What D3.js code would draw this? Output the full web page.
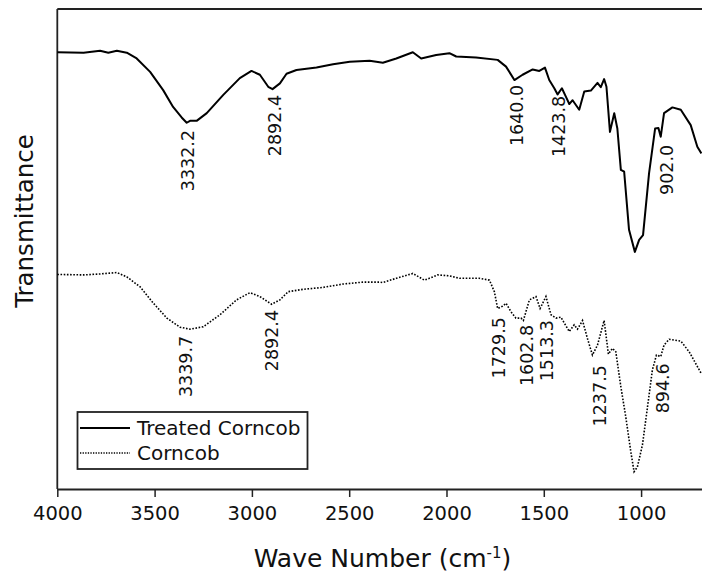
<!DOCTYPE html>
<html><head><meta charset="utf-8">
<script src="https://cdn.jsdelivr.net/npm/d3@7"></script>
<style>body{margin:0;background:#fff}svg{display:block}text{font-family:"DejaVu Sans",Verdana,sans-serif;fill:#111}</style>
</head><body><svg id="c" width="702" height="573"></svg>
<script>
// Treated corncob spectrum: wavenumber (cm-1) and transmittance (arb. %)
const treatedWave = [4000,3865,3780,3738,3694,3643,3592,3523,3456,3405,3361,3335,3318,3284,3232,3147,3062,3002,2959,2916,2894,2856,2822,2771,2668,2583,2497,2395,2344,2327,2258,2173,2130,2053,1985,1950,1848,1737,1694,1651,1609,1557,1523,1494,1472,1446,1429,1407,1386,1369,1352,1318,1292,1258,1224,1207,1190,1178,1160,1138,1122,1104,1087,1062,1032,1010,990,959,928,911,899,882,839,796,745,711,690];
const treatedT = [91.0,90.9,91.3,90.9,91.3,90.9,89.7,86.9,83.1,79.6,77.4,76.3,76.7,76.7,78.3,82.1,85.6,87.1,86.3,83.8,83.3,84.5,86.5,87.3,87.8,88.5,89.0,89.2,88.9,88.8,89.7,91.0,89.7,90.4,90.8,90.1,89.9,89.4,88.0,85.2,86.3,87.4,87.1,87.8,85.2,83.5,82.2,83.5,81.7,80.2,81.0,79.0,82.8,83.0,84.6,83.7,85.4,83.8,74.4,78.3,75.1,66.5,66.1,54.0,49.4,51.9,52.9,65.8,75.1,75.2,73.4,78.3,79.5,79.0,75.8,71.3,69.9];
// Raw corncob spectrum
const corncobWave = [4000,3865,3780,3694,3643,3574,3506,3437,3369,3318,3250,3164,3079,3010,2959,2899,2856,2814,2737,2634,2532,2429,2344,2327,2258,2173,2113,2045,1985,1933,1831,1779,1754,1737,1711,1694,1668,1643,1617,1605,1574,1540,1519,1489,1463,1437,1412,1395,1369,1344,1327,1301,1276,1250,1224,1190,1168,1147,1130,1104,1079,1053,1036,1019,993,967,942,921,899,882,856,796,753,690];
const corncobT = [44.7,44.6,44.8,45.1,44.2,42.1,38.7,35.6,33.7,33.3,33.8,36.3,39.4,40.9,40.1,38.5,39.4,41.1,41.6,42.0,42.7,43.1,43.1,43.0,43.9,44.9,43.5,44.6,44.4,43.9,43.9,43.5,41.1,37.6,38.1,38.7,36.9,35.6,35.6,35.1,39.4,40.1,37.6,40.1,36.3,35.6,35.8,34.6,32.8,34.2,33.3,35.1,31.4,27.9,30.0,35.1,28.1,29.3,28.6,21.3,15.1,7.8,3.6,4.6,9.2,17.1,24.8,27.9,27.6,30.0,31.2,30.8,28.6,24.0];
// Peak annotations
const treatedPeaks = ["3332.2","2892.4","1640.0","1423.8","902.0"];
const treatedPeakT = [74.8,82.1,84.2,81.9,71.7];
const corncobPeaks = ["3339.7","2892.4","1729.5","1602.8","1513.3","1237.5","894.6"];
const corncobPeakT = [31.9,37.3,35.8,34.2,35.2,25.8,26.2];
const xTicks = [4000,3500,3000,2500,2000,1500,1000];
const seriesNames = ["Treated Corncob","Corncob"];

const svg = d3.select("#c");
const L=57.3, T=9, B=489, R=702;
const x = d3.scaleLinear().domain([4000,687]).range([L,R]);
const y = d3.scaleLinear().domain([0,100]).range([B,T]);

// frame
svg.append("line").attr("x1",L).attr("x2",R+2).attr("y1",T).attr("y2",T).attr("stroke","#222").attr("stroke-width",1.8);
svg.append("line").attr("x1",L).attr("x2",L).attr("y1",T).attr("y2",B).attr("stroke","#222").attr("stroke-width",1.8);

const ax = svg.append("g").attr("transform",`translate(0,${B})`)
  .call(d3.axisBottom(x).tickValues(xTicks).tickFormat(d3.format("d")).tickSize(8).tickSizeOuter(0));
ax.select(".domain").attr("stroke","#222").attr("stroke-width",1.8);
ax.selectAll(".tick line").attr("stroke","#222").attr("stroke-width",1.5);
ax.selectAll(".tick text").attr("font-size","19.5px").attr("font-family","DejaVu Sans, Verdana, sans-serif").attr("fill","#111").attr("dy","1.05em");

const line = d3.line().x(d=>x(d[0])).y(d=>y(d[1]));
svg.append("path").datum(treatedWave.map((w,i)=>[w,treatedT[i]])).attr("d",line)
  .attr("fill","none").attr("stroke","#000").attr("stroke-width",2).attr("stroke-linejoin","round");
svg.append("path").datum(corncobWave.map((w,i)=>[w,corncobT[i]])).attr("d",line)
  .attr("fill","none").attr("stroke","#000").attr("stroke-width",1.6).attr("stroke-dasharray","1.6,1.6");

// annotations (rotated)
const tOff=[0,2,0,0,7], cOff=[0,-1,0,2.5,5,5,1.5];
function ann(labels, ts, offs){
  labels.forEach((lab,i)=>{
    const px = x(+lab)+offs[i], py = y(ts[i]);
    svg.append("text").attr("transform",`translate(${px},${py}) rotate(-90)`)
      .attr("text-anchor","end").attr("dy","0.36em").attr("font-size","17.5px").text(lab);
  });
}
ann(treatedPeaks, treatedPeakT, tOff);
ann(corncobPeaks, corncobPeakT, cOff);

// axis titles
svg.append("text").attr("transform","translate(33,221) rotate(-90)").attr("text-anchor","middle")
  .attr("font-size","24.5px").text("Transmittance");
const xt = svg.append("text").attr("x",382.5).attr("y",567).attr("text-anchor","middle").attr("font-size","25px");
xt.append("tspan").text("Wave Number (cm");
xt.append("tspan").attr("dy","-9").attr("font-size","15px").text("-1");
xt.append("tspan").attr("dy","9").text(")");

// legend
svg.append("rect").attr("x",77.5).attr("y",412).attr("width",230).attr("height",57)
  .attr("fill","#fff").attr("stroke","#222").attr("stroke-width",1.8);
const legY=[428,453];
seriesNames.forEach((n,i)=>{
  svg.append("line").attr("x1",80).attr("x2",130).attr("y1",legY[i]).attr("y2",legY[i])
    .attr("stroke","#000").attr("stroke-width",i?1.3:2).attr("stroke-dasharray",i?"1.3,1.3":null);
  svg.append("text").attr("x",137).attr("y",legY[i]+7).attr("font-size","20px").text(n);
});
</script></body></html>
